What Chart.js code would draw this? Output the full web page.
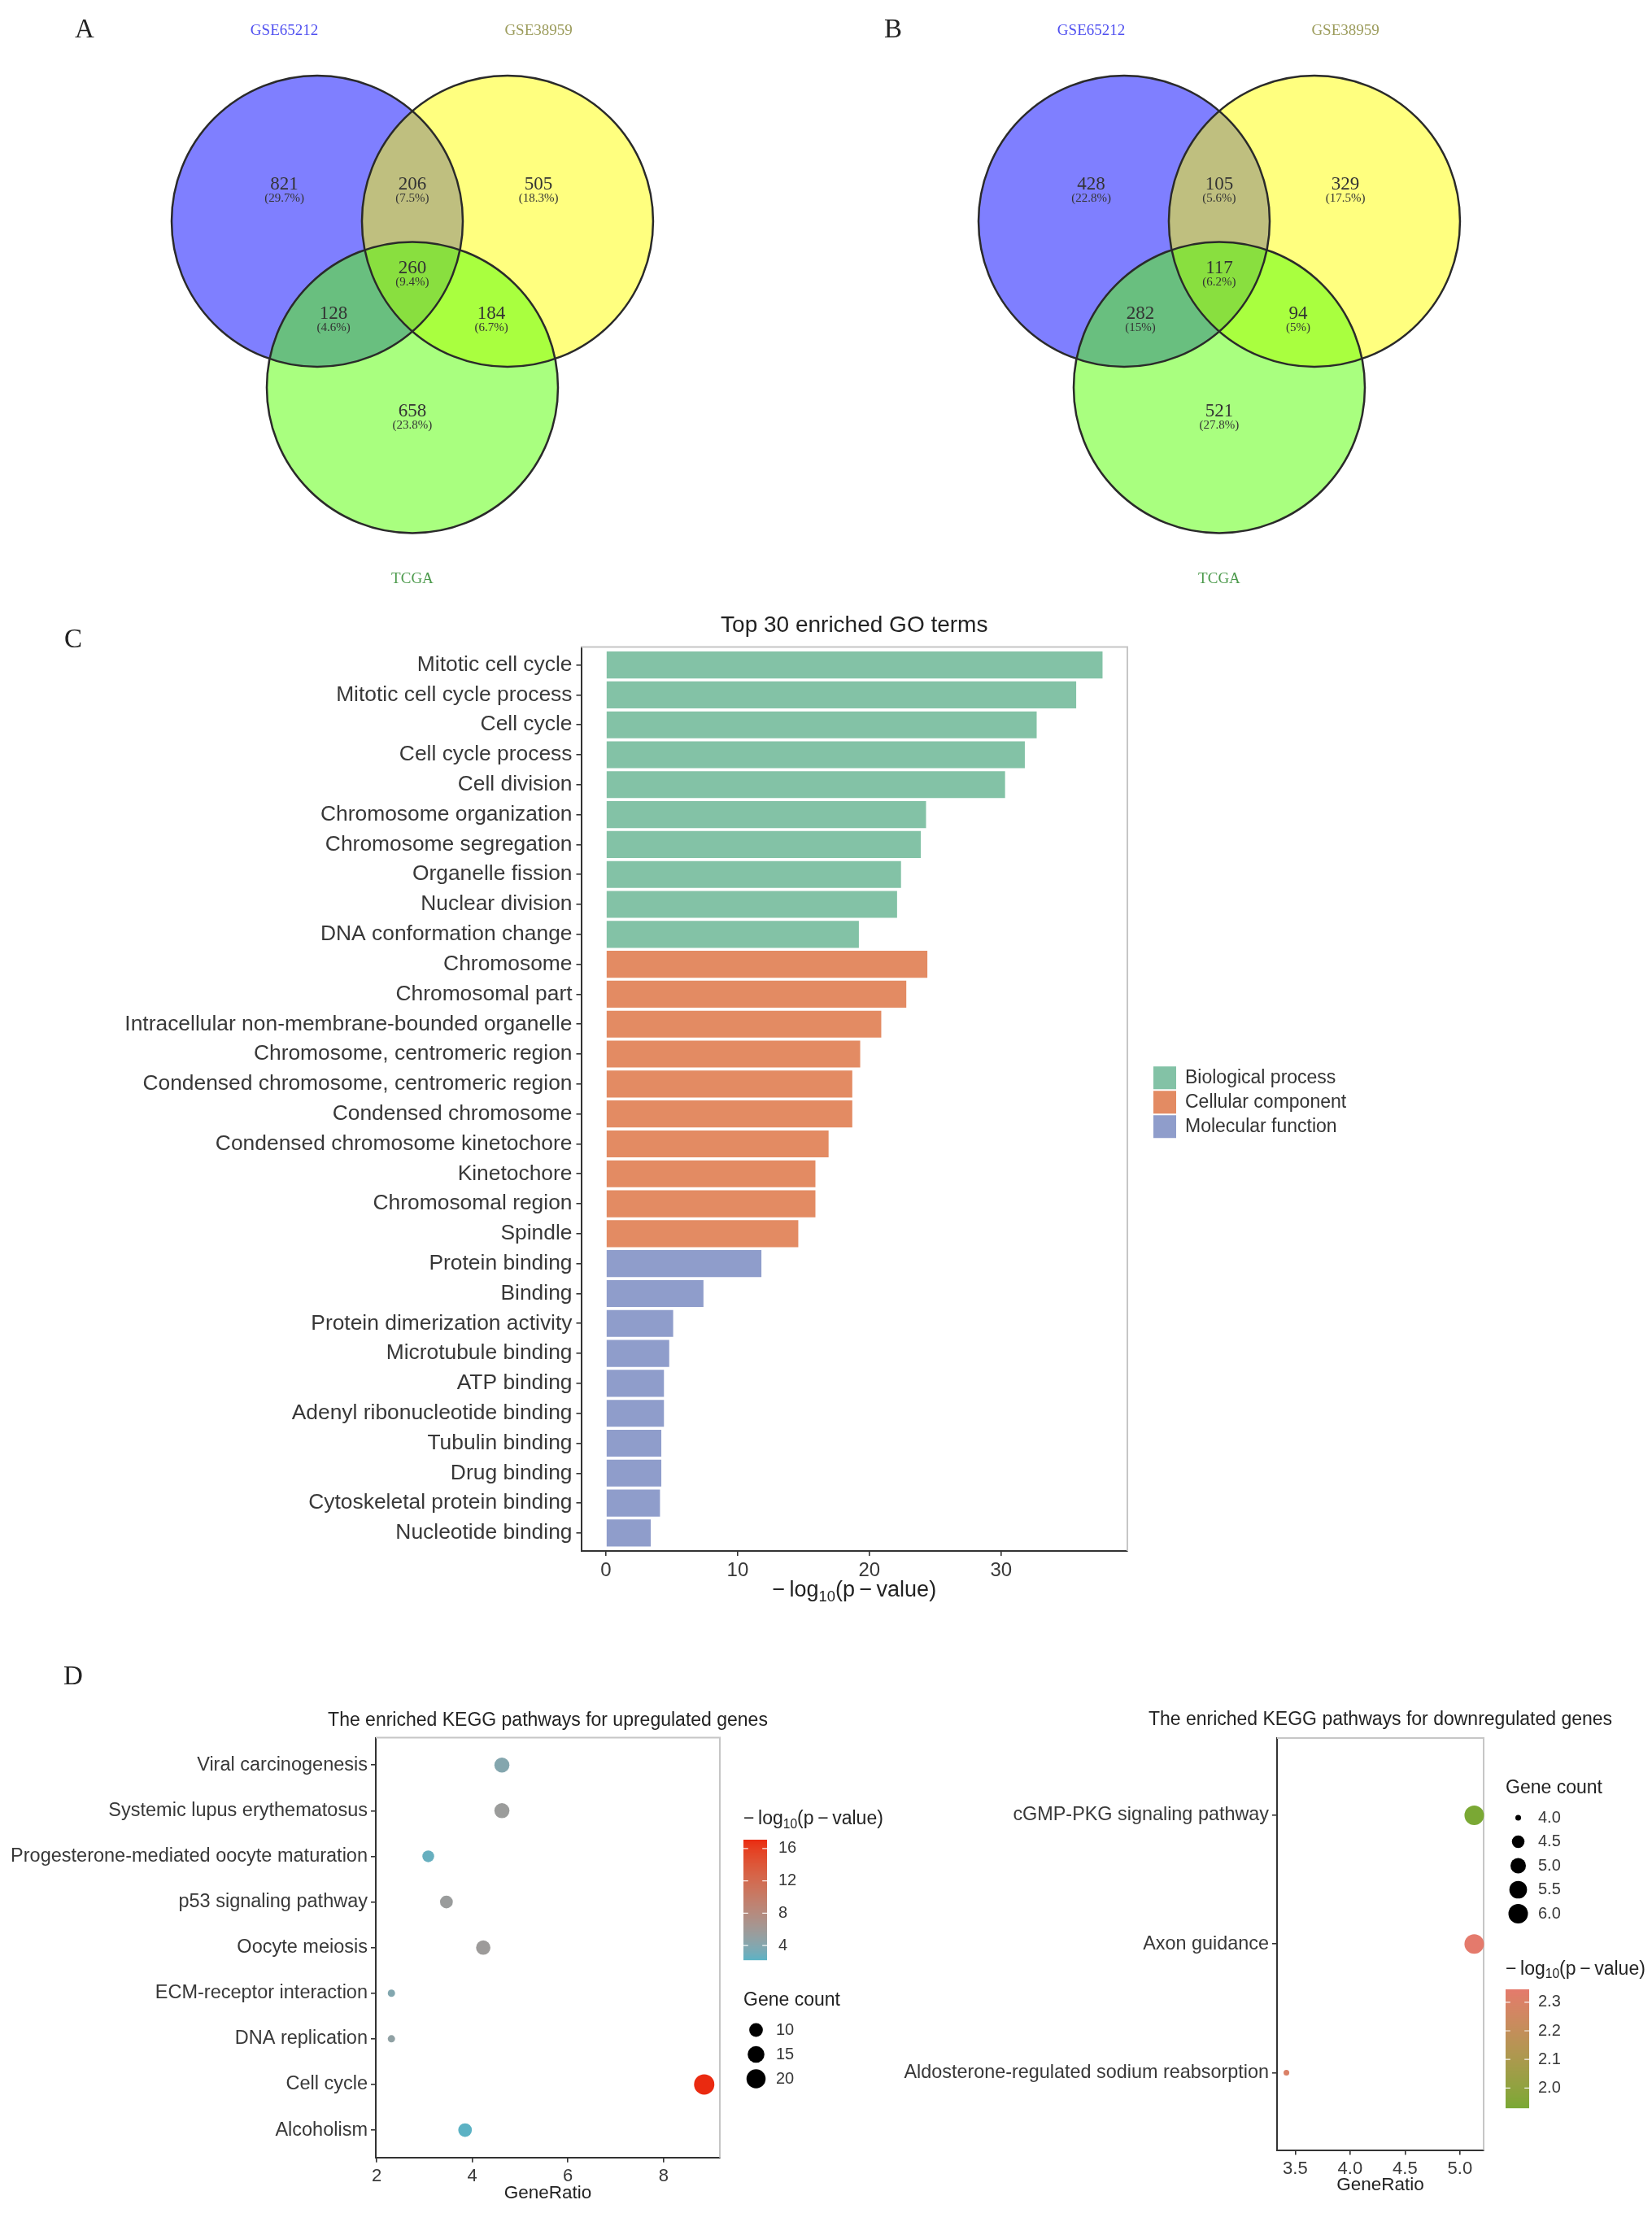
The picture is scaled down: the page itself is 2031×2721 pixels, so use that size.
<!DOCTYPE html>
<html>
<head>
<meta charset="utf-8">
<script src="https://cdn.jsdelivr.net/npm/chart.js@4.4.1/dist/chart.umd.min.js"></script>
<style>
html,body{margin:0;padding:0;background:#fff;}
#page{position:relative;width:2031px;height:2721px;background:#fff;overflow:hidden;}
canvas{position:absolute;}
.letter{position:absolute;font-family:'Liberation Serif','Times New Roman',serif;font-size:33px;color:#222;transform:translate(-50%,-50%);line-height:1;}
</style>
</head>
<body>
<div id="page">
<canvas id="vennA" width="1000" height="740" style="left:0;top:0"></canvas>
<canvas id="vennB" width="1000" height="740" style="left:992px;top:0"></canvas>
<canvas id="goChart" width="2031" height="1260" style="left:0;top:740px"></canvas>
<canvas id="keggUp" width="1100" height="661" style="left:0;top:2060px"></canvas>
<canvas id="keggDown" width="951" height="661" style="left:1080px;top:2060px"></canvas>
<div class="letter" style="left:104px;top:35px">A</div>
<div class="letter" style="left:1098px;top:35px">B</div>
<div class="letter" style="left:90px;top:785px">C</div>
<div class="letter" style="left:90px;top:2060px">D</div>
</div>
<script>
// ---------------- DATA ----------------
const vennSetNames = ['GSE65212', 'GSE38959', 'TCGA'];
// regions: only 1, 1&2, only 2, 1&2&3, 1&3, 2&3, only 3
const vennACounts = [821, 206, 505, 260, 128, 184, 658];
const vennAPercents = ['(29.7%)', '(7.5%)', '(18.3%)', '(9.4%)', '(4.6%)', '(6.7%)', '(23.8%)'];
const vennBCounts = [428, 105, 329, 117, 282, 94, 521];
const vennBPercents = ['(22.8%)', '(5.6%)', '(17.5%)', '(6.2%)', '(15%)', '(5%)', '(27.8%)'];

const goGroups = ['Biological process', 'Cellular component', 'Molecular function'];
const bpTerms = ['Mitotic cell cycle', 'Mitotic cell cycle process', 'Cell cycle', 'Cell cycle process', 'Cell division',
  'Chromosome organization', 'Chromosome segregation', 'Organelle fission', 'Nuclear division', 'DNA conformation change'];
const bpValues = [37.7, 35.7, 32.7, 31.8, 30.3, 24.3, 23.9, 22.4, 22.1, 19.2];
const ccTerms = ['Chromosome', 'Chromosomal part', 'Intracellular non-membrane-bounded organelle', 'Chromosome, centromeric region',
  'Condensed chromosome, centromeric region', 'Condensed chromosome', 'Condensed chromosome kinetochore', 'Kinetochore',
  'Chromosomal region', 'Spindle'];
const ccValues = [24.4, 22.8, 20.9, 19.3, 18.7, 18.7, 16.9, 15.9, 15.9, 14.6];
const mfTerms = ['Protein binding', 'Binding', 'Protein dimerization activity', 'Microtubule binding', 'ATP binding',
  'Adenyl ribonucleotide binding', 'Tubulin binding', 'Drug binding', 'Cytoskeletal protein binding', 'Nucleotide binding'];
const mfValues = [11.8, 7.4, 5.1, 4.8, 4.4, 4.4, 4.2, 4.2, 4.1, 3.4];
const goXTicks = [0, 10, 20, 30];

const upPathways = ['Viral carcinogenesis', 'Systemic lupus erythematosus', 'Progesterone-mediated oocyte maturation',
  'p53 signaling pathway', 'Oocyte meiosis', 'ECM-receptor interaction', 'DNA replication', 'Cell cycle', 'Alcoholism'];
const upGeneRatio = [4.62, 4.62, 3.08, 3.46, 4.23, 2.31, 2.31, 8.85, 3.85];
const upGeneCount = [12, 12, 8, 9, 11, 6, 6, 23, 10];
const upLogP = [4.0, 5.6, 2.6, 5.5, 5.7, 3.9, 4.8, 17.1, 2.2];
const upXTicks = [2, 4, 6, 8];
const upCountBreaks = [10, 15, 20];
const upLogPBreaks = [4, 8, 12, 16];

const downPathways = ['cGMP-PKG signaling pathway', 'Axon guidance', 'Aldosterone-regulated sodium reabsorption'];
const downGeneRatio = [5.13, 5.13, 3.42];
const downGeneCount = [6, 6, 4];
const downLogP = [1.93, 2.345, 2.30];
const downXTicks = [3.5, 4.0, 4.5, 5.0];
const downCountBreaks = [4.0, 4.5, 5.0, 5.5, 6.0];
const downLogPBreaks = [2.0, 2.1, 2.2, 2.3];

// ---------------- STYLE / LAYOUT ----------------
const FONT = "'Liberation Sans', Arial, Helvetica, sans-serif";
const SERIF = "'Liberation Serif', 'Times New Roman', serif";
const TEXT = '#383838';
const AXIS = '#333333';

// Venn geometry (in circle-radius units)
const vennRadius = 1;
const vennCircleX = [0, 1.307, 0.6535];
const vennCircleY = [0, 0, -1.142];
const vennFill = ['rgba(0,0,255,0.5)', 'rgba(255,255,0,0.5)', 'rgba(84,255,0,0.5)'];
const vennTitleColors = ['#5050f0', '#9c9c5c', '#4c9a4c'];
const vennRegionX = [-0.226, 0.6535, 1.52, 0.6535, 0.112, 1.196, 0.6535];
const vennRegionY = [0.254, 0.254, 0.254, -0.324, -0.637, -0.637, -1.307];
const vennTitleX = [-0.226, 1.52, 0.6535];
const vennTitleY = [1.308, 1.308, -2.456];
const vennXRange = [-2.1788, 3.4078];
const vennYRange = [-2.6145, 1.5196];

const goColors = ['#83c2a6', '#e38b63', '#8f9dcb'];

// ---------------- HELPERS ----------------
function toLin(c){c/=255;return c<=0.04045?c/12.92:Math.pow((c+0.055)/1.055,2.4);}
function toSrgb(c){c=c<=0.0031308?12.92*c:1.055*Math.pow(c,1/2.4)-0.055;return Math.round(Math.min(1,Math.max(0,c))*255);}
function rgbToLab(rgb){
  const [r,g,b]=rgb.map(toLin);
  const X=(0.4124*r+0.3576*g+0.1805*b)/0.95047, Y=(0.2126*r+0.7152*g+0.0722*b), Z=(0.0193*r+0.1192*g+0.9505*b)/1.08883;
  const f=t=>t>0.008856?Math.cbrt(t):7.787*t+16/116;
  const fx=f(X),fy=f(Y),fz=f(Z);
  return [116*fy-16,500*(fx-fy),200*(fy-fz)];
}
function labToRgb(lab){
  const [L,a,bb]=lab;
  const fy=(L+16)/116,fx=fy+a/500,fz=fy-bb/200;
  const fi=t=>{const t3=t*t*t;return t3>0.008856?t3:(t-16/116)/7.787;};
  const X=fi(fx)*0.95047,Y=fi(fy),Z=fi(fz)*1.08883;
  const r=3.2406*X-1.5372*Y-0.4986*Z, g=-0.9689*X+1.8758*Y+0.0415*Z, b=0.0557*X-0.2040*Y+1.0570*Z;
  return [toSrgb(r),toSrgb(g),toSrgb(b)];
}
function gradient(low, high, vmin, vmax){
  const A=rgbToLab(low), B=rgbToLab(high);
  return v=>{let t=(v-vmin)/(vmax-vmin);t=Math.max(0,Math.min(1,t));
    const c=labToRgb(A.map((x,i)=>x+(B[i]-x)*t));return 'rgb('+c[0]+','+c[1]+','+c[2]+')';};
}
function sizeScale(dmin, dmax, cmin, cmax){
  return c=>{const t=Math.max(0,Math.min(1,(c-cmin)/(cmax-cmin)));return (dmin+(dmax-dmin)*Math.sqrt(t))/2;};
}
function drawLogTitle(ctx, x, y, size, align, color){
  const parts=[{t:'\u2212\u2009log',s:size,dy:0},{t:'10',s:size*0.68,dy:size*0.28},{t:'(p\u2009\u2212\u2009value)',s:size,dy:0}];
  ctx.save();ctx.fillStyle=color;ctx.textBaseline='middle';ctx.textAlign='left';
  let w=0;parts.forEach(p=>{ctx.font=p.s+'px '+FONT;p.w=ctx.measureText(p.t).width;w+=p.w;});
  let cx=align==='center'?x-w/2:x;
  parts.forEach(p=>{ctx.font=p.s+'px '+FONT;ctx.fillText(p.t,cx,y+p.dy);cx+=p.w;});
  ctx.restore();
}
function drawText(ctx, txt, x, y, font, color, align){
  ctx.save();ctx.font=font;ctx.fillStyle=color;ctx.textAlign=align||'center';ctx.textBaseline='middle';
  ctx.fillText(txt,x,y);ctx.restore();
}
function drawColorbar(ctx, x, y0, w, h, vmin, vmax, colorFn, breaks, fmt, labelX, fontSize){
  ctx.save();
  for(let i=0;i<h;i++){const v=vmax-(i+0.5)/h*(vmax-vmin);ctx.fillStyle=colorFn(v);ctx.fillRect(x,y0+i,w,1.2);}
  ctx.strokeStyle='rgba(255,255,255,0.9)';ctx.lineWidth=1.2;
  breaks.forEach(b=>{
    const yy=y0+(vmax-b)/(vmax-vmin)*h;
    ctx.beginPath();ctx.moveTo(x,yy);ctx.lineTo(x+w*0.2,yy);ctx.moveTo(x+w*0.8,yy);ctx.lineTo(x+w,yy);ctx.stroke();
    drawText(ctx,fmt(b),labelX,yy,fontSize+'px '+FONT,TEXT,'left');
  });
  ctx.restore();
}
function axisCfg(fontSize, extra){
  const base={
    type:'linear', offset:false,
    border:{display:true,color:AXIS,width:2},
    grid:{display:true,offset:false,drawOnChartArea:false,drawTicks:true,tickLength:6,color:AXIS,lineWidth:1.6},
    ticks:{color:TEXT,font:{size:fontSize,family:FONT},padding:4,autoSkip:false,maxRotation:0,minRotation:0}
  };
  const t=Object.assign({},base.ticks,extra.ticks||{});
  return Object.assign(base,extra,{ticks:t});
}
const framePlugin={id:'frame',beforeDatasetsDraw(chart){
  const {ctx,chartArea:a}=chart;ctx.save();ctx.strokeStyle='#c6c6c6';ctx.lineWidth=2;
  ctx.beginPath();ctx.moveTo(a.left,a.top);ctx.lineTo(a.right,a.top);ctx.lineTo(a.right,a.bottom);ctx.stroke();ctx.restore();
}};
const baseOpts={responsive:false,animation:false,devicePixelRatio:1,events:[],
  plugins:{legend:{display:false},tooltip:{enabled:false},title:{display:false}}};

// ---------------- VENN (A, B) ----------------
function vennPlugin(counts, percents){
  return {id:'vennText',afterDatasetsDraw(chart){
    const {ctx,scales:{x,y}}=chart;
    const meta=chart.getDatasetMeta(0);
    ctx.save();
    meta.data.forEach(pt=>{ctx.beginPath();ctx.arc(pt.x,pt.y,pt.options.radius,0,Math.PI*2);
      ctx.lineWidth=2.5;ctx.strokeStyle='#2a2a2a';ctx.stroke();});
    counts.forEach((c,i)=>{
      const px=x.getPixelForValue(vennRegionX[i]), py=y.getPixelForValue(vennRegionY[i]);
      drawText(ctx,String(c),px,py,'23px '+SERIF,'#333','center');
      drawText(ctx,percents[i],px,py+17.5,'15px '+SERIF,'#333','center');
    });
    vennSetNames.forEach((n,i)=>{
      drawText(ctx,n,x.getPixelForValue(vennTitleX[i]),y.getPixelForValue(vennTitleY[i]),'19px '+SERIF,vennTitleColors[i],'center');
    });
    ctx.restore();
  }};
}
function makeVenn(id, counts, percents){
  const unitPx=ctx=>{const s=ctx.chart.scales.x;return Math.abs(s.getPixelForValue(vennRadius)-s.getPixelForValue(0));};
  new Chart(document.getElementById(id),{
    type:'scatter',
    data:{datasets:[{data:vennCircleX.map((cx,i)=>({x:cx,y:vennCircleY[i]})),
      pointRadius:unitPx,pointHoverRadius:unitPx,pointBackgroundColor:vennFill,pointBorderWidth:0,clip:false}]},
    options:Object.assign({},baseOpts,{layout:{padding:0},
      scales:{x:{type:'linear',display:false,min:vennXRange[0],max:vennXRange[1]},
              y:{type:'linear',display:false,min:vennYRange[0],max:vennYRange[1]}}}),
    plugins:[vennPlugin(counts,percents)]
  });
}
makeVenn('vennA',vennACounts,vennAPercents);
makeVenn('vennB',vennBCounts,vennBPercents);

// ---------------- GO BAR CHART (C) ----------------
const allTerms=[...bpTerms,...ccTerms,...mfTerms];
const goTermSets=[bpTerms,ccTerms,mfTerms];
const goValueSets=[bpValues,ccValues,mfValues];
const goMax=Math.max(...bpValues,...ccValues,...mfValues);
const goDecor={id:'goDecor',afterDraw(chart){
  const {ctx,chartArea:a}=chart;
  const cx=(a.left+a.right)/2;
  drawText(ctx,'Top 30 enriched GO terms',cx,a.top-26,'28px '+FONT,'#222','center');
  drawLogTitle(ctx,cx,a.bottom+49,27,'center','#222');
  const my=(a.top+a.bottom)/2+4;
  goGroups.forEach((g,i)=>{
    const yc=my+(i-1)*30;
    ctx.fillStyle=goColors[i];ctx.fillRect(a.right+32,yc-14,28,28);
    drawText(ctx,g,a.right+71,yc,'23px '+FONT,'#333','left');
  });
}};
new Chart(document.getElementById('goChart'),{
  type:'bar',
  data:{datasets:goGroups.map((g,gi)=>({label:g,
    data:goValueSets[gi].map((v,i)=>({x:v,y:allTerms.indexOf(goTermSets[gi][i])+1})),
    backgroundColor:goColors[gi],borderWidth:0,grouped:false,barPercentage:1,categoryPercentage:0.9}))},
  options:Object.assign({},baseOpts,{
    indexAxis:'y',
    layout:{padding:{left:0,top:55.5,right:645,bottom:33}},
    scales:{
      y:axisCfg(26.4,{reverse:true,min:0.4,max:allTerms.length+0.6,
        afterBuildTicks:s=>{s.ticks=allTerms.map((t,i)=>({value:i+1}));},
        afterFit:s=>{s.width=714.5;},
        ticks:{callback:v=>allTerms[Math.round(v)-1],padding:5}}),
      x:axisCfg(24,{min:-0.05*goMax,max:1.05*goMax,
        afterBuildTicks:s=>{s.ticks=goXTicks.map(v=>({value:v}));},
        afterFit:s=>{s.height=60;},
        ticks:{callback:v=>String(v)}})
    }}),
  plugins:[framePlugin,goDecor]
});

// ---------------- KEGG UP (D left) ----------------
const upColor=gradient([92,178,196],[234,42,16],Math.min(...upLogP),Math.max(...upLogP));
const upSize=sizeScale(9,25,Math.min(...upGeneCount),Math.max(...upGeneCount));
const upXmin=Math.min(...upGeneRatio), upXmax=Math.max(...upGeneRatio), upPad=0.05*(upXmax-upXmin);
const upDecor={id:'upDecor',afterDraw(chart){
  const {ctx,chartArea:a}=chart;
  const cx=(a.left+a.right)/2;
  drawText(ctx,'The enriched KEGG pathways for upregulated genes',cx,a.top-21,'23px '+FONT,'#222','center');
  drawText(ctx,'GeneRatio',cx,a.bottom+44,'22.5px '+FONT,'#222','center');
  const lx=a.right+29;
  drawLogTitle(ctx,lx,176.8,23,'left','#222');
  drawColorbar(ctx,lx,202,29,148,Math.min(...upLogP),Math.max(...upLogP),upColor,upLogPBreaks,v=>String(v),lx+43,20);
  drawText(ctx,'Gene count',lx,400,'23px '+FONT,'#222','left');
  upCountBreaks.forEach((c,i)=>{
    const yy=436+i*30;ctx.beginPath();ctx.arc(lx+15.5,yy,upSize(c),0,Math.PI*2);ctx.fillStyle='#000';ctx.fill();
    drawText(ctx,String(c),lx+40,yy,'20px '+FONT,TEXT,'left');
  });
}};
new Chart(document.getElementById('keggUp'),{
  type:'scatter',
  data:{datasets:[{data:upGeneRatio.map((r,i)=>({x:r,y:i+1})),
    pointRadius:ctx=>upSize(upGeneCount[ctx.dataIndex]),
    pointHoverRadius:ctx=>upSize(upGeneCount[ctx.dataIndex]),
    pointBackgroundColor:ctx=>upColor(upLogP[ctx.dataIndex]),
    pointBorderWidth:0,clip:false}]},
  options:Object.assign({},baseOpts,{
    layout:{padding:{left:0,top:76.6,right:215,bottom:18.3}},
    scales:{
      y:axisCfg(23.5,{reverse:true,min:0.4,max:upPathways.length+0.6,
        afterBuildTicks:s=>{s.ticks=upPathways.map((t,i)=>({value:i+1}));},
        afterFit:s=>{s.width=462;},
        ticks:{callback:v=>upPathways[Math.round(v)-1],padding:4}}),
      x:axisCfg(22,{min:upXmin-upPad,max:upXmax+upPad,
        afterBuildTicks:s=>{s.ticks=upXTicks.map(v=>({value:v}));},
        afterFit:s=>{s.height=50;},
        ticks:{callback:v=>String(v)}})
    }}),
  plugins:[framePlugin,upDecor]
});

// ---------------- KEGG DOWN (D right) ----------------
const downColor=gradient([122,168,52],[228,122,108],Math.min(...downLogP),Math.max(...downLogP));
const downSize=sizeScale(7,24,Math.min(...downGeneCount),Math.max(...downGeneCount));
const dnXmin=Math.min(...downGeneRatio), dnXmax=Math.max(...downGeneRatio), dnPad=0.05*(dnXmax-dnXmin);
const downDecor={id:'downDecor',afterDraw(chart){
  const {ctx,chartArea:a}=chart;
  const cx=(a.left+a.right)/2;
  drawText(ctx,'The enriched KEGG pathways for downregulated genes',cx,a.top-22,'23px '+FONT,'#222','center');
  drawText(ctx,'GeneRatio',cx,a.bottom+43.5,'22.5px '+FONT,'#222','center');
  const lx=a.right+27;
  drawText(ctx,'Gene count',lx,139,'23px '+FONT,'#222','left');
  downCountBreaks.forEach((c,i)=>{
    const yy=175+i*29.5;ctx.beginPath();ctx.arc(lx+15.5,yy,downSize(c),0,Math.PI*2);ctx.fillStyle='#000';ctx.fill();
    drawText(ctx,c.toFixed(1),lx+40,yy,'20px '+FONT,TEXT,'left');
  });
  drawLogTitle(ctx,lx,361.7,23,'left','#222');
  drawColorbar(ctx,lx,386,29,146,Math.min(...downLogP),Math.max(...downLogP),downColor,downLogPBreaks,v=>v.toFixed(1),lx+40,20);
}};
new Chart(document.getElementById('keggDown'),{
  type:'scatter',
  data:{datasets:[{data:downGeneRatio.map((r,i)=>({x:r,y:i+1})),
    pointRadius:ctx=>downSize(downGeneCount[ctx.dataIndex]),
    pointHoverRadius:ctx=>downSize(downGeneCount[ctx.dataIndex]),
    pointBackgroundColor:ctx=>downColor(downLogP[ctx.dataIndex]),
    pointBorderWidth:0,clip:false}]},
  options:Object.assign({},baseOpts,{
    layout:{padding:{left:0,top:77,right:207,bottom:27.5}},
    scales:{
      y:axisCfg(23.4,{reverse:true,min:0.4,max:downPathways.length+0.6,
        afterBuildTicks:s=>{s.ticks=downPathways.map((t,i)=>({value:i+1}));},
        afterFit:s=>{s.width=490;},
        ticks:{callback:v=>downPathways[Math.round(v)-1],padding:4}}),
      x:axisCfg(22,{min:dnXmin-dnPad,max:dnXmax+dnPad,
        afterBuildTicks:s=>{s.ticks=downXTicks.map(v=>({value:v}));},
        afterFit:s=>{s.height=50;},
        ticks:{callback:v=>Number(v).toFixed(1)}})
    }}),
  plugins:[framePlugin,downDecor]
});
</script>
</body>
</html>
